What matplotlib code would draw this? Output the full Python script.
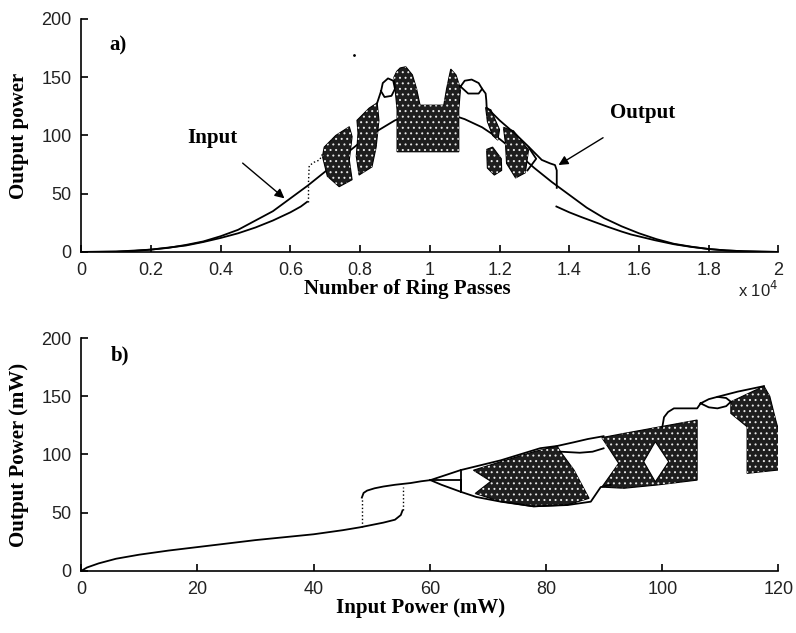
import matplotlib
matplotlib.use("Agg")
import matplotlib.pyplot as plt

# ---------------- panel a) : power vs ring passes (x in units of 1e4) ----------------
pass_x = [0.00, 0.05, 0.10, 0.15, 0.20, 0.25, 0.30, 0.35, 0.40, 0.45, 0.50, 0.55, 0.60, 0.65,
          0.70, 0.75, 0.80, 0.85, 0.90, 0.95, 1.00, 1.05, 1.10, 1.15, 1.20, 1.25, 1.30, 1.35,
          1.40, 1.45, 1.50, 1.55, 1.60, 1.65, 1.70, 1.75, 1.80, 1.85, 1.90, 1.95, 2.00]
input_power = [0, 0.1, 0.3, 0.8, 2.0, 3.5, 6, 9, 13.5, 19, 27, 35, 46, 57,
               69, 82, 94, 104, 113, 118, 120, 119, 114, 107, 97, 85, 72, 60,
               49, 38, 29, 22, 16, 11, 7, 4.5, 2.5, 1.3, 0.6, 0.2, 0]

# stable output branches
out_left_x = [0, 0.1, 0.2, 0.3, 0.35, 0.4, 0.45, 0.5, 0.55, 0.6, 0.63, 0.648]
out_left_y = [0, 0.3, 2, 5.5, 8.5, 12, 16, 21, 27, 34, 39, 43]
jump_a_x = [0.650, 0.650]
jump_a_y = [43, 57]
branch_a_x = [0.652, 0.654, 0.668, 0.684, 0.692]
branch_a_y = [60, 74, 77, 79, 84]

out_right_x = [1.15, 1.16, 1.162, 1.163, 1.20, 1.25, 1.283, 1.321, 1.345, 1.359, 1.364, 1.364]
out_right_y = [140, 136, 130, 124, 113, 100, 90.4, 79, 76, 74.6, 70, 55]
inner_r_x = [1.283, 1.305, 1.28]
inner_r_y = [90, 80, 70]
tail_x = [1.363, 1.40, 1.434, 1.47, 1.511, 1.55, 1.577, 1.646, 1.70, 1.75, 1.80, 1.85, 1.90, 2.00]
tail_y = [39, 34, 30, 26, 21.5, 17.5, 15, 10, 6.6, 4.3, 2.5, 1.3, 0.6, 0]

# small period loops
loop_l_x = [0.86, 0.865, 0.88, 0.895, 0.90, 0.89, 0.87, 0.86]
loop_l_y = [138, 145, 149, 147, 140, 134, 133, 138]
link_l_x = [0.849, 0.86]
link_l_y = [128, 138]
loop_r_x = [1.088, 1.10, 1.12, 1.14, 1.15, 1.14, 1.11, 1.088]
loop_r_y = [142, 147, 148, 145, 140, 136, 136, 142]

# chaotic clouds (outlines)
cloud_a1_x = [0.692, 0.697, 0.73, 0.769, 0.777, 0.769, 0.777, 0.74, 0.706]
cloud_a1_y = [82, 90, 100, 107.5, 99, 79, 62, 56, 65]
cloud_a2_x = [0.789, 0.794, 0.791, 0.826, 0.849, 0.854, 0.846, 0.834, 0.797]
cloud_a2_y = [82, 102, 113, 123.5, 128, 113, 90, 73, 66]
cloud_a3_x = [0.906, 0.897, 0.905, 0.915, 0.931, 0.95, 0.962, 0.972, 1.04, 1.048, 1.055,
              1.06, 1.075, 1.088, 1.083, 1.083, 0.906]
cloud_a3_y = [122, 150, 155, 158, 159, 152, 140, 126, 126, 140, 150,
              157, 152, 140, 122, 86, 86]
cloud_a4_x = [1.16, 1.175, 1.20, 1.195, 1.18, 1.165]
cloud_a4_y = [124, 122, 105, 96, 100, 112]
cloud_a5_x = [1.163, 1.18, 1.205, 1.206, 1.185, 1.165]
cloud_a5_y = [88, 90, 80, 70, 66, 72]
cloud_a6_x = [1.211, 1.24, 1.283, 1.274, 1.246, 1.22, 1.217]
cloud_a6_y = [107, 104, 87.5, 68, 63.5, 76, 93]

# ---------------- panel b) : output vs input power ----------------
low_x = [0, 1, 3, 6, 10, 15, 20, 25, 30, 35, 40, 45, 48, 50, 52, 54, 55, 55.3]
low_y = [0, 3, 6.5, 10.5, 14, 17.5, 20.5, 23.5, 26.5, 29, 31.5, 35, 37.5, 39.5, 41.5, 44, 48, 52]
jump_b1_x = [48.3, 48.3]
jump_b1_y = [38, 63]
jump_b2_x = [55.3, 55.3]
jump_b2_y = [52, 72]
up_x = [48.3, 48.6, 49.2, 50.5, 52, 54, 56.7, 58.5, 60.1]
up_y = [63, 67, 69, 71, 72.5, 74, 75.5, 77, 78]
p2_up_x = [60.1, 65.3, 72.2, 79.0, 81.9, 84.7, 87.2, 89.9]
p2_up_y = [78, 86.6, 95, 105.4, 107.3, 110.4, 113.3, 115.7]
p2_mid_x = [60.1, 65.3, 65.3, 65.3]
p2_mid_y = [78, 78, 68, 86.6]
p2_low_x = [60.1, 62, 65.3, 68, 72.2, 77.8, 83.7, 87.7, 89.4, 91.1]
p2_low_y = [78, 74, 68, 63.5, 59.5, 55.5, 56.6, 59.5, 72, 74]
bub_b1_x = [82.5, 85.8, 88.0, 89.9]
bub_b1_y = [102.4, 101.5, 102.4, 105.3]
conn_b_x = [100, 100.3, 101, 102, 106, 106.6]
conn_b_y = [123.3, 132, 136.5, 139.6, 139.6, 143.9]
bub_b2_x = [106.6, 108, 109.5, 111, 111.8, 111, 109.5, 108, 106.6]
bub_b2_y = [143.9, 147.5, 149.5, 148.5, 145.3, 141.5, 139.6, 140.5, 143.9]
top_b_x = [109.5, 113, 117.5]
top_b_y = [149.5, 154, 158.7]

cloud_b1_x = [67.5, 72.2, 77.9, 81.9, 82.5, 84.8, 87.4, 83.6, 77.9, 72.2, 67.8, 70.5]
cloud_b1_y = [86.5, 93.8, 102.4, 107.3, 102.4, 86.7, 62.4, 56.6, 55.2, 59.5, 66.5, 77]
cloud_b2_x = [89.6, 93.4, 99.1, 106.0, 106.0, 99.1, 93.4, 89.6, 92.5]
cloud_b2_y = [114.5, 118.1, 123.3, 129.6, 78, 73.8, 71, 72, 92.4]
hole_b2_x = [98.8, 101.1, 98.8, 96.8]
hole_b2_y = [111, 93.8, 76.6, 93.8]
cloud_b3_x = [111.8, 117.5, 118.5, 119.5, 120, 120, 114.6, 114.6, 111.8]
cloud_b3_y = [145.3, 158.7, 150, 130, 121, 86.7, 83.8, 123.8, 135.3]

# ---------------- drawing ----------------
plt.rcParams['font.family'] = 'Liberation Sans'
plt.rcParams['hatch.linewidth'] = 0.7
label_font = {'family': 'Liberation Serif', 'weight': 'bold', 'size': 15}

fig = plt.figure(figsize=(7.96, 6.33), dpi=100)
ax1 = fig.add_axes([0.102, 0.602, 0.876, 0.368])
ax2 = fig.add_axes([0.102, 0.098, 0.876, 0.368])


def cloud(ax, xs, ys):
    pts = list(zip(xs, ys))
    ax.add_patch(plt.Polygon(pts, closed=True, facecolor='#1e1e1e', edgecolor='black',
                             linewidth=0.8, zorder=2))
    ax.add_patch(plt.Polygon(pts, closed=True, facecolor='none', edgecolor='#e8e8e8',
                             hatch='...', linewidth=0, zorder=2.1))


def hole(ax, xs, ys):
    ax.add_patch(plt.Polygon(list(zip(xs, ys)), closed=True, facecolor='white',
                             edgecolor='black', linewidth=0.8, zorder=2.2))


line = dict(color='black', lw=1.3, zorder=3)
dots = dict(color='black', lw=1.0, ls=':', zorder=3)

# panel a
ax1.plot(pass_x, input_power, color='black', lw=1.3, zorder=1.5)
ax1.plot(out_left_x, out_left_y, **line)
ax1.plot(jump_a_x, jump_a_y, **dots)
ax1.plot(branch_a_x, branch_a_y, **dots)
ax1.plot(out_right_x, out_right_y, **line)
ax1.plot(inner_r_x, inner_r_y, **line)
ax1.plot(tail_x, tail_y, **line)
ax1.plot(loop_l_x, loop_l_y, **line)
ax1.plot(link_l_x, link_l_y, **line)
ax1.plot(loop_r_x, loop_r_y, **line)
for cx, cy in [(cloud_a1_x, cloud_a1_y), (cloud_a2_x, cloud_a2_y), (cloud_a3_x, cloud_a3_y),
               (cloud_a4_x, cloud_a4_y), (cloud_a5_x, cloud_a5_y), (cloud_a6_x, cloud_a6_y)]:
    cloud(ax1, cx, cy)
ax1.plot([0.783], [169], 'k.', ms=2)

ax1.set_xlim(0, 2)
ax1.set_ylim(0, 200)
ax1.set_xticks([0, 0.2, 0.4, 0.6, 0.8, 1.0, 1.2, 1.4, 1.6, 1.8, 2.0])
ax1.set_xticklabels(['0', '0.2', '0.4', '0.6', '0.8', '1', '1.2', '1.4', '1.6', '1.8', '2'])
ax1.set_yticks([0, 50, 100, 150, 200])
ax1.set_xlabel('Number of Ring Passes', fontdict=label_font)
ax1.set_ylabel('Output power', fontdict=label_font)
ax1.xaxis.set_label_coords(0.468, -0.115)
ax1.yaxis.set_label_coords(-0.075, 0.5)
ax1.text(0.08, 177, 'a)', fontdict=label_font, va='center')
ax1.text(1.0, -0.165, r'x 10$^4$', transform=ax1.transAxes, ha='right', va='center',
         fontsize=12, color='#222222')
ax1.annotate('Input', xy=(0.583, 46), xytext=(0.377, 98), fontfamily='Liberation Serif',
             fontweight='bold', fontsize=15, ha='center', va='center',
             arrowprops=dict(arrowstyle='-|>', color='black', lw=1.0, mutation_scale=14,
                             shrinkA=14, shrinkB=0))
ax1.annotate('Output', xy=(1.369, 74.6), xytext=(1.611, 119), fontfamily='Liberation Serif',
             fontweight='bold', fontsize=15, ha='center', va='center',
             arrowprops=dict(arrowstyle='-|>', color='black', lw=1.0, mutation_scale=14,
                             shrinkA=16, shrinkB=0))

# panel b
ax2.plot(low_x, low_y, **line)
ax2.plot(jump_b1_x, jump_b1_y, **dots)
ax2.plot(jump_b2_x, jump_b2_y, **dots)
ax2.plot(up_x, up_y, **line)
ax2.plot(p2_up_x, p2_up_y, **line)
ax2.plot(p2_mid_x, p2_mid_y, **line)
ax2.plot(p2_low_x, p2_low_y, **line)
ax2.plot(bub_b1_x, bub_b1_y, **line)
ax2.plot(conn_b_x, conn_b_y, **line)
ax2.plot(bub_b2_x, bub_b2_y, **line)
ax2.plot(top_b_x, top_b_y, **line)
cloud(ax2, cloud_b1_x, cloud_b1_y)
cloud(ax2, cloud_b2_x, cloud_b2_y)
hole(ax2, hole_b2_x, hole_b2_y)
cloud(ax2, cloud_b3_x, cloud_b3_y)

ax2.set_xlim(0, 120)
ax2.set_ylim(0, 200)
ax2.set_xticks([0, 20, 40, 60, 80, 100, 120])
ax2.set_yticks([0, 50, 100, 150, 200])
ax2.set_xlabel('Input Power (mW)', fontdict=label_font)
ax2.set_ylabel('Output Power (mW)', fontdict=label_font)
ax2.xaxis.set_label_coords(0.486, -0.115)
ax2.yaxis.set_label_coords(-0.075, 0.5)
ax2.text(5, 185, 'b)', fontdict=label_font, va='center')

for ax in (ax1, ax2):
    ax.spines['top'].set_visible(False)
    ax.spines['right'].set_visible(False)
    ax.spines['left'].set_linewidth(1.2)
    ax.spines['bottom'].set_linewidth(1.2)
    ax.tick_params(direction='in', length=5, width=1.2, pad=7, labelsize=13,
                   labelcolor='#222222')

fig.savefig('out.png', dpi=100)
